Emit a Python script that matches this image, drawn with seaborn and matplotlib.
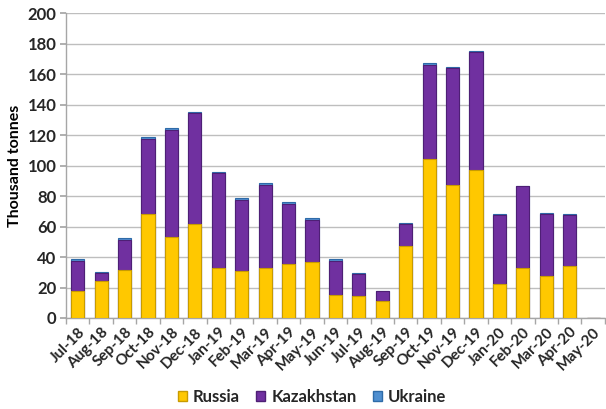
import matplotlib
matplotlib.use("Agg")
import matplotlib.pyplot as plt
import seaborn as sns
import numpy as np
import pandas as pd
from matplotlib.patches import Patch
from matplotlib.ticker import MultipleLocator, FixedLocator

months = ["Jul-18", "Aug-18", "Sep-18", "Oct-18", "Nov-18", "Dec-18", "Jan-19",
          "Feb-19", "Mar-19", "Apr-19", "May-19", "Jun-19", "Jul-19", "Aug-19",
          "Sep-19", "Oct-19", "Nov-19", "Dec-19", "Jan-20", "Feb-20", "Mar-20",
          "Apr-20", "May-20"]
russia = [17.7, 24.3, 31.5, 68.4, 53.3, 61.4, 32.6, 31.0, 33.0, 35.4, 37.0, 14.9,
          14.4, 11.0, 47.4, 104.5, 87.0, 97.0, 22.5, 32.8, 27.5, 34.0, 0]
kazakhstan = [20.0, 5.0, 19.7, 49.1, 70.3, 73.0, 62.4, 46.5, 54.5, 39.6, 27.6, 22.6,
              14.3, 6.5, 14.1, 61.2, 76.8, 77.3, 45.2, 53.8, 41.0, 33.7, 0]
ukraine = [1.0, 0.7, 1.0, 1.0, 1.0, 0.9, 1.0, 1.0, 1.0, 1.0, 1.0, 1.0,
           1.0, 0.5, 1.0, 1.7, 1.0, 1.0, 0.7, 0.0, 0.5, 0.5, 0]

sns.set_theme(style="white")
plt.rcParams['font.family'] = ['Lato', 'DejaVu Sans']

df = pd.DataFrame({"month": months, "Russia": russia,
                   "Kazakhstan": kazakhstan, "Ukraine": ukraine})
df["lvl_rk"] = df["Russia"] + df["Kazakhstan"]
df["lvl_all"] = df["lvl_rk"] + df["Ukraine"]

fig = plt.figure(figsize=(6.06, 4.09), dpi=100)
ax = fig.add_axes([0.109, 0.2225, 0.889, 0.7455])

c_rus, c_kaz, c_ukr = "#FFC800", "#7030A0", "#4F8FD0"
e_rus, e_kaz, e_ukr = "#C89B00", "#4E1F75", "#2E6BA8"
w = 0.56
sns.barplot(data=df, x="month", y="lvl_all", color=c_ukr, saturation=1,
            width=w, edgecolor=e_ukr, linewidth=0.8, ax=ax, zorder=2)
sns.barplot(data=df, x="month", y="lvl_rk", color=c_kaz, saturation=1,
            width=w, edgecolor=e_kaz, linewidth=0.8, ax=ax, zorder=3)
sns.barplot(data=df, x="month", y="Russia", color=c_rus, saturation=1,
            width=w, edgecolor=e_rus, linewidth=0.8, ax=ax, zorder=4)

ax.set_ylim(0, 200)
ax.set_xlim(-0.5, len(months) - 0.5)
ax.yaxis.set_major_locator(MultipleLocator(20))
ax.grid(axis="y", color="#BEBEBE", linewidth=1.0, zorder=0)
ax.set_axisbelow(True)
for s in ["top", "right"]:
    ax.spines[s].set_visible(False)
for s in ["left", "bottom"]:
    ax.spines[s].set_color("#A6A6A6")
    ax.spines[s].set_linewidth(1.0)

ax.set_xlabel("")
ax.set_ylabel("Thousand tonnes", fontsize=11.5, fontweight="bold", color="#000000", labelpad=4)
ax.set_xticks(range(len(months)))
ax.set_xticklabels(months, rotation=45, ha="right", rotation_mode="anchor",
                   fontsize=11, fontweight="bold")
ax.tick_params(axis="x", which="major", length=0, pad=5)
ax.xaxis.set_minor_locator(FixedLocator(np.arange(-0.5, len(months), 1.0)))
ax.tick_params(axis="x", which="minor", length=4, color="#A6A6A6", direction="out", bottom=True)
ax.tick_params(axis="y", length=4, color="#A6A6A6", left=True, labelsize=12, pad=3)
for lab in ax.get_yticklabels():
    lab.set_fontweight("bold")

handles = [Patch(facecolor=c_rus, edgecolor=e_rus, label="Russia"),
           Patch(facecolor=c_kaz, edgecolor=e_kaz, label="Kazakhstan"),
           Patch(facecolor=c_ukr, edgecolor=e_ukr, label="Ukraine")]
leg = fig.legend(handles=handles, loc="center", bbox_to_anchor=(0.515, 0.03), ncol=3,
                 frameon=False, handlelength=0.55, handleheight=0.55,
                 handletextpad=0.35, columnspacing=1.0, prop={"weight": "bold", "size": 12})

fig.savefig("out.png", dpi=100)
